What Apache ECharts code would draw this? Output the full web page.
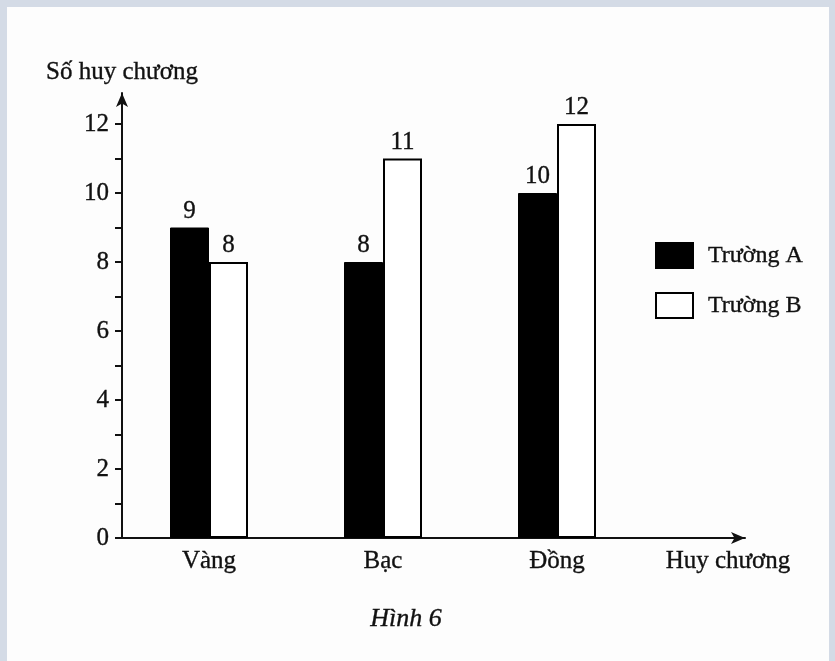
<!DOCTYPE html>
<html>
<head>
<meta charset="utf-8">
<script src="https://cdn.jsdelivr.net/npm/echarts@6/dist/echarts.min.js"></script>
<style>
html,body{margin:0;padding:0;background:#d4dbe6;}
#c{position:absolute;left:0;top:0;width:835px;height:661px;background:#fdfdfd;
box-shadow: inset 7px 7px 0 0 #d4dbe6, inset -6px 0 0 0 #d4dbe6;}
</style>
</head>
<body>
<div id="c"></div>
<script>
const categories = ['Vàng', 'Bạc', 'Đồng'];
const seriesNames = ['Trường A', 'Trường B'];
const truongA = [9, 8, 10];
const truongB = [8, 11, 12];
const yTickValues = [0,1,2,3,4,5,6,7,8,9,10,11,12];
const yLabelValues = [0,2,4,6,8,10,12];
const yAxisTitle = 'Số huy chương';
const xAxisTitle = 'Huy chương';
const caption = 'Hình 6';

const FONT = 'Liberation Serif';
const INK = '#111';
const txt = (size) => ({fontFamily: FONT, fontSize: size, color: INK, textBorderColor: INK, textBorderWidth: 0.35});
const chart = echarts.init(document.getElementById('c'), null, {renderer: 'canvas'});
const lbl = Object.assign({show: true, position: 'top', distance: 4}, txt(25));
chart.setOption({
  backgroundColor: 'transparent',
  animation: false,
  title: {
    text: caption, left: 401, top: 601, textAlign: 'center',
    textStyle: Object.assign(txt(26), {fontStyle: 'italic', fontWeight: 'normal'})
  },
  legend: {
    orient: 'vertical', left: 655, top: 242, padding: 0, itemWidth: 37, itemHeight: 25, itemGap: 23,
    icon: 'rect',
    textStyle: Object.assign(txt(24), {padding: [0, 0, 0, 10]}),
    data: seriesNames
  },
  grid: [
    {left: 122, top: 124, width: 522, height: 414, containLabel: false},
    {left: 122, top: 93, width: 623, height: 445, containLabel: false}
  ],
  xAxis: [
    {type: 'category', gridIndex: 0, data: categories,
     axisLine: {show: false}, axisTick: {show: false},
     axisLabel: Object.assign({margin: 11}, txt(25))},
    {type: 'value', gridIndex: 1, min: 0, max: 1, name: xAxisTitle, nameLocation: 'end', nameGap: -17,
     nameTextStyle: Object.assign(txt(25), {align: 'center', verticalAlign: 'top', padding: [11, 0, 0, 0]}),
     axisLine: {show: true, lineStyle: {color: INK, width: 2}, symbol: ['none', 'arrow'], symbolSize: [9, 14]},
     axisTick: {show: false}, axisLabel: {show: false}, splitLine: {show: false}}
  ],
  yAxis: [
    {type: 'value', gridIndex: 0, min: 0, max: 12, show: false, splitLine: {show: false}},
    {type: 'value', gridIndex: 1, min: 0, max: 12.9, interval: 1,
     name: yAxisTitle, nameLocation: 'end', nameGap: 8,
     nameTextStyle: Object.assign(txt(25), {align: 'center', verticalAlign: 'bottom'}),
     axisLine: {show: true, lineStyle: {color: INK, width: 2}, symbol: ['none', 'arrow'], symbolSize: [9, 14]},
     axisTick: {show: true, length: 7, lineStyle: {color: INK, width: 2}, customValues: yTickValues},
     axisLabel: Object.assign({margin: 13, customValues: yLabelValues}, txt(25)),
     splitLine: {show: false}}
  ],
  series: [
    {name: seriesNames[0], type: 'bar', xAxisIndex: 0, yAxisIndex: 0, data: truongA,
     barWidth: 39, barGap: '0%',
     itemStyle: {color: '#000', borderColor: '#000', borderWidth: 1}, label: lbl},
    {name: seriesNames[1], type: 'bar', xAxisIndex: 0, yAxisIndex: 0, data: truongB,
     barWidth: 39, barGap: '0%',
     itemStyle: {color: '#fff', borderColor: '#000', borderWidth: 2}, label: lbl}
  ]
});
</script>
</body>
</html>
